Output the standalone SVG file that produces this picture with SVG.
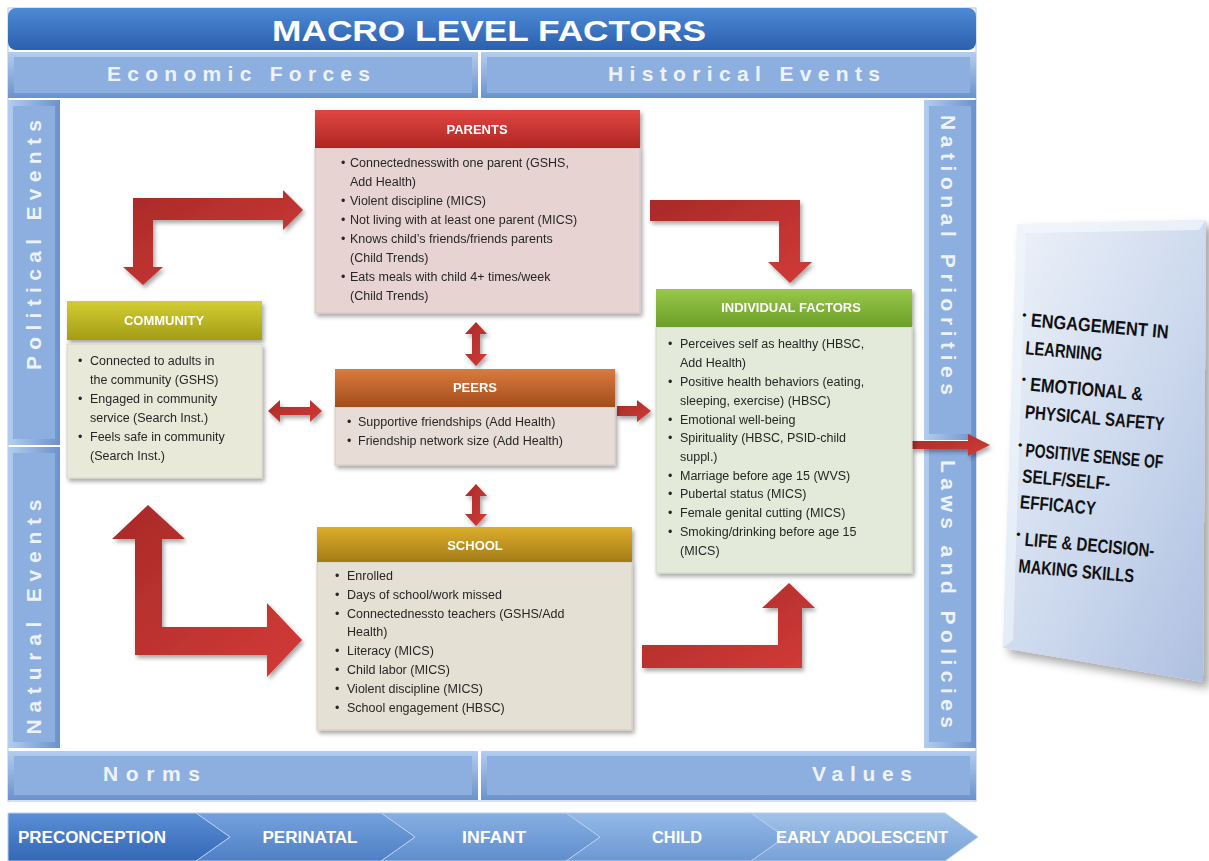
<svg xmlns="http://www.w3.org/2000/svg" width="1209" height="861" viewBox="0 0 1209 861">
<defs>
<style>
.bt{font-family:"Liberation Sans",Arial,sans-serif;font-weight:bold;fill:#eef3fb;font-size:21px;}
.hd{font-family:"Liberation Sans",Arial,sans-serif;font-weight:bold;fill:#ffffff;font-size:13px;text-anchor:middle;}
.tx{font-family:"Liberation Sans",Arial,sans-serif;font-size:12.5px;fill:#262626;}
.tl{font-family:"Liberation Sans",Arial,sans-serif;font-weight:bold;fill:#ffffff;font-size:16px;text-anchor:middle;}
.pn{font-family:"Liberation Sans",Arial,sans-serif;font-weight:bold;fill:#111;font-size:19px;}
.pb{font-family:"Liberation Sans",Arial,sans-serif;font-weight:bold;fill:#111;font-size:12px;}
.ar{fill:url(#red);filter:url(#sh);}
.bf{fill:#8cafe0;}
</style>
<filter id="sh" x="-10%" y="-10%" width="130%" height="130%"><feDropShadow dx="2" dy="3" stdDeviation="2" flood-color="#000" flood-opacity="0.35"/></filter>
<filter id="sh2" x="-20%" y="-10%" width="150%" height="130%"><feDropShadow dx="6" dy="6" stdDeviation="5" flood-color="#000" flood-opacity="0.35"/></filter>
<linearGradient id="red" x1="0" y1="0" x2="1" y2="1"><stop offset="0" stop-color="#a82a28"/><stop offset="1" stop-color="#d23b37"/></linearGradient>
<linearGradient id="top" x1="0" y1="0" x2="0" y2="1"><stop offset="0" stop-color="#4d8ad6"/><stop offset="1" stop-color="#2b60ad"/></linearGradient>
<linearGradient id="bh" x1="0" y1="0" x2="0" y2="1"><stop offset="0" stop-color="#b3cdf0"/><stop offset="1" stop-color="#6a92cc"/></linearGradient>
<linearGradient id="bv" x1="0" y1="0" x2="1" y2="0"><stop offset="0" stop-color="#b3cdf0"/><stop offset="1" stop-color="#6a92cc"/></linearGradient>
<linearGradient id="hRed" x1="0" y1="0" x2="0" y2="1"><stop offset="0" stop-color="#e04642"/><stop offset="1" stop-color="#b02623"/></linearGradient>
<linearGradient id="hOl" x1="0" y1="0" x2="0" y2="1"><stop offset="0" stop-color="#d3cd33"/><stop offset="1" stop-color="#a39d17"/></linearGradient>
<linearGradient id="hOr" x1="0" y1="0" x2="0" y2="1"><stop offset="0" stop-color="#d97b3f"/><stop offset="1" stop-color="#a34d1b"/></linearGradient>
<linearGradient id="hGr" x1="0" y1="0" x2="0" y2="1"><stop offset="0" stop-color="#98c84a"/><stop offset="1" stop-color="#6b9f28"/></linearGradient>
<linearGradient id="hGo" x1="0" y1="0" x2="0" y2="1"><stop offset="0" stop-color="#dcae2c"/><stop offset="1" stop-color="#a37b17"/></linearGradient>
<linearGradient id="ch1" x1="0" y1="0" x2="0" y2="1"><stop offset="0" stop-color="#5a8fd6"/><stop offset="1" stop-color="#3467b5"/></linearGradient>
<linearGradient id="ch2" x1="0" y1="0" x2="0" y2="1"><stop offset="0" stop-color="#74a1dd"/><stop offset="1" stop-color="#4f80c5"/></linearGradient>
<linearGradient id="ch3" x1="0" y1="0" x2="0" y2="1"><stop offset="0" stop-color="#86afe3"/><stop offset="1" stop-color="#5f8ecd"/></linearGradient>
<linearGradient id="ch4" x1="0" y1="0" x2="0" y2="1"><stop offset="0" stop-color="#94b9e7"/><stop offset="1" stop-color="#6c98d3"/></linearGradient>
<linearGradient id="ch5" x1="0" y1="0" x2="0" y2="1"><stop offset="0" stop-color="#a1c2ea"/><stop offset="1" stop-color="#77a1d7"/></linearGradient>
<linearGradient id="pnl" x1="0" y1="0" x2="1" y2="1"><stop offset="0" stop-color="#eef3fa"/><stop offset="0.6" stop-color="#c9d6ec"/><stop offset="1" stop-color="#aebfe0"/></linearGradient>
</defs>
<rect width="1209" height="861" fill="#ffffff"/>

<g id="frame">
<rect x="8" y="8" width="968" height="793" fill="#ffffff" stroke="#a9c3e8" stroke-width="1"/>
<rect x="8" y="8" width="968" height="42" rx="8" fill="url(#top)"/>
<text x="489" y="41" font-family="'Liberation Sans',Arial,sans-serif" font-weight="bold" font-size="29" fill="#ffffff" text-anchor="middle" textLength="434" lengthAdjust="spacingAndGlyphs">MACRO LEVEL FACTORS</text>
</g>

<g id="band-economic"><rect x="8" y="52" width="470" height="46" fill="url(#bh)"/><rect class="bf" x="14" y="57" width="458" height="36"/><text class="bt" x="107" y="81" textLength="263" lengthAdjust="spacing">Economic Forces</text></g>
<g id="band-historical"><rect x="481" y="52" width="495" height="46" fill="url(#bh)"/><rect class="bf" x="487" y="57" width="483" height="36"/><text class="bt" x="608" y="81" textLength="272" lengthAdjust="spacing">Historical Events</text></g>
<g id="band-norms"><rect x="8" y="751" width="470" height="49" fill="url(#bh)"/><rect class="bf" x="14" y="756" width="458" height="39"/><text class="bt" x="103" y="781" textLength="97" lengthAdjust="spacing">Norms</text></g>
<g id="band-values"><rect x="481" y="751" width="495" height="49" fill="url(#bh)"/><rect class="bf" x="487" y="756" width="483" height="39"/><text class="bt" x="812" y="781" textLength="100" lengthAdjust="spacing">Values</text></g>
<g id="band-political"><rect x="8" y="100" width="52" height="345" fill="url(#bv)"/><rect class="bf" x="13" y="106" width="42" height="333"/><text class="bt" transform="translate(34,245) rotate(-90)" x="0" y="7" text-anchor="middle" textLength="250" lengthAdjust="spacing">Political Events</text></g>
<g id="band-natural"><rect x="8" y="447" width="52" height="301" fill="url(#bv)"/><rect class="bf" x="13" y="453" width="42" height="289"/><text class="bt" transform="translate(34,617) rotate(-90)" x="0" y="7" text-anchor="middle" textLength="235" lengthAdjust="spacing">Natural Events</text></g>
<g id="band-national"><rect x="924" y="100" width="52" height="340" fill="url(#bv)"/><rect class="bf" x="929" y="106" width="42" height="328"/><text class="bt" transform="translate(948,255) rotate(90)" x="0" y="7" text-anchor="middle" textLength="280" lengthAdjust="spacing">National Priorities</text></g>
<g id="band-laws"><rect x="924" y="442" width="52" height="306" fill="url(#bv)"/><rect class="bf" x="929" y="448" width="42" height="294"/><text class="bt" transform="translate(948,594) rotate(90)" x="0" y="7" text-anchor="middle" textLength="268" lengthAdjust="spacing">Laws and Policies</text></g>

<g id="timeline">
<polygon points="751,813 945,813 978,837 945,861 751,861 785,837" fill="url(#ch5)" stroke="#b5cdee" stroke-width="1"/>
<polygon points="566,813 751,813 785,837 751,861 566,861 600,837" fill="url(#ch4)" stroke="#b5cdee" stroke-width="1"/>
<polygon points="381,813 566,813 600,837 566,861 381,861 415,837" fill="url(#ch3)" stroke="#b5cdee" stroke-width="1"/>
<polygon points="196,813 381,813 415,837 381,861 196,861 230,837" fill="url(#ch2)" stroke="#b5cdee" stroke-width="1"/>
<polygon points="8,813 196,813 230,837 196,861 8,861" fill="url(#ch1)" stroke="#b5cdee" stroke-width="1"/>
<text class="tl" x="92" y="843" textLength="148" lengthAdjust="spacingAndGlyphs">PRECONCEPTION</text>
<text class="tl" x="310" y="843" textLength="95" lengthAdjust="spacingAndGlyphs">PERINATAL</text>
<text class="tl" x="494" y="843" textLength="64" lengthAdjust="spacingAndGlyphs">INFANT</text>
<text class="tl" x="677" y="843" textLength="50" lengthAdjust="spacingAndGlyphs">CHILD</text>
<text class="tl" x="862" y="843" textLength="172" lengthAdjust="spacingAndGlyphs">EARLY ADOLESCENT</text>
</g>

<g id="connectors">
<polygon class="ar" points="303,210 283,230 283,220 153,220 153,267 163,267 143,285 123,267 133,267 133,198 283,198 283,190"/>
<polygon class="ar" points="650,200 800,200 800,262 812,262 790,283 768,262 779,262 779,221 650,221"/>
<polygon class="ar" points="148,505 185,539 162,539 162,627 267,627 267,603 302,640 267,677 267,655 135,655 135,539 112,539"/>
<polygon class="ar" points="642,645 778,645 778,608 762,608 789,583 815,608 802,608 802,668 642,668"/>
<polygon class="ar" points="476,322 487,334 480,334 480,354 487,354 476,366 465,354 472,354 472,334 465,334"/>
<polygon class="ar" points="476,484 487,496 480,496 480,514 487,514 476,526 465,514 472,514 472,496 465,496"/>
<polygon class="ar" points="268,411 280,400 280,407 310,407 310,400 322,411 310,422 310,415 280,415 280,422"/>
<polygon class="ar" points="617,406 637,406 637,400 651,411 637,422 637,416 617,416"/>
<polygon class="ar" points="912,441 968,441 968,434 990,445 968,456 968,449 912,449"/>
</g>

<g id="parents" filter="url(#sh)">
<rect x="315" y="148" width="325" height="165" fill="#e8d3d3" stroke="#d8c2c2"/>
<rect x="315" y="110" width="325" height="38" fill="url(#hRed)"/>
<text class="hd" x="477" y="134">PARENTS</text>
<text class="tx"><tspan x="341" y="167">•</tspan><tspan x="341" y="205">•</tspan><tspan x="341" y="224">•</tspan><tspan x="341" y="243">•</tspan><tspan x="341" y="281">•</tspan></text>
<text class="tx"><tspan x="350" y="167">Connectednesswith one parent (GSHS,</tspan><tspan x="350" y="186">Add Health)</tspan><tspan x="350" y="205">Violent discipline (MICS)</tspan><tspan x="350" y="224">Not living with at least one parent  (MICS)</tspan><tspan x="350" y="243">Knows child’s friends/friends parents</tspan><tspan x="350" y="262">(Child Trends)</tspan><tspan x="350" y="281">Eats meals with child 4+ times/week</tspan><tspan x="350" y="300">(Child Trends)</tspan></text>
</g>

<g id="community" filter="url(#sh)">
<rect x="67" y="344" width="195" height="134" fill="#e9e9da" stroke="#d6d6c4"/>
<rect x="67" y="301" width="195" height="39" fill="url(#hOl)"/>
<text class="hd" x="164" y="325">COMMUNITY</text>
<text class="tx"><tspan x="78" y="365">•</tspan><tspan x="78" y="403">•</tspan><tspan x="78" y="441">•</tspan></text>
<text class="tx"><tspan x="90" y="365">Connected to adults in</tspan><tspan x="90" y="384">the community (GSHS)</tspan><tspan x="90" y="403">Engaged in community</tspan><tspan x="90" y="422">service (Search Inst.)</tspan><tspan x="90" y="441">Feels safe in community</tspan><tspan x="90" y="460">(Search Inst.)</tspan></text>
</g>

<g id="peers" filter="url(#sh)">
<rect x="335" y="407" width="280" height="58" fill="#e8dcd7" stroke="#d6c8c2"/>
<rect x="335" y="369" width="280" height="38" fill="url(#hOr)"/>
<text class="hd" x="475" y="392">PEERS</text>
<text class="tx"><tspan x="347" y="426">•</tspan><tspan x="347" y="445">•</tspan></text>
<text class="tx"><tspan x="358" y="426">Supportive friendships (Add Health)</tspan><tspan x="358" y="445">Friendship network size (Add Health)</tspan></text>
</g>

<g id="individual" filter="url(#sh)">
<rect x="656" y="327" width="256" height="246" fill="#e3ead9" stroke="#cfd8c4"/>
<rect x="656" y="289" width="256" height="38" fill="url(#hGr)"/>
<text class="hd" x="791" y="312">INDIVIDUAL FACTORS</text>
<text class="tx"><tspan x="668" y="348">•</tspan><tspan x="668" y="386">•</tspan><tspan x="668" y="424">•</tspan><tspan x="668" y="442">•</tspan><tspan x="668" y="480">•</tspan><tspan x="668" y="498">•</tspan><tspan x="668" y="517">•</tspan><tspan x="668" y="536">•</tspan></text>
<text class="tx"><tspan x="680" y="348">Perceives self as healthy (HBSC,</tspan><tspan x="680" y="367">Add Health)</tspan><tspan x="680" y="386">Positive health behaviors (eating,</tspan><tspan x="680" y="405">sleeping, exercise) (HBSC)</tspan><tspan x="680" y="424">Emotional well-being</tspan><tspan x="680" y="442">Spirituality (HBSC, PSID-child</tspan><tspan x="680" y="461">suppl.)</tspan><tspan x="680" y="480">Marriage before age 15 (WVS)</tspan><tspan x="680" y="498">Pubertal status (MICS)</tspan><tspan x="680" y="517">Female genital cutting  (MICS)</tspan><tspan x="680" y="536">Smoking/drinking before age 15</tspan><tspan x="680" y="555">(MICS)</tspan></text>
</g>

<g id="school" filter="url(#sh)">
<rect x="317" y="562" width="315" height="168" fill="#e5e0d4" stroke="#d3cdbf"/>
<rect x="317" y="527" width="315" height="35" fill="url(#hGo)"/>
<text class="hd" x="475" y="550">SCHOOL</text>
<text class="tx"><tspan x="335" y="580">•</tspan><tspan x="335" y="599">•</tspan><tspan x="335" y="618">•</tspan><tspan x="335" y="655">•</tspan><tspan x="335" y="674">•</tspan><tspan x="335" y="693">•</tspan><tspan x="335" y="712">•</tspan></text>
<text class="tx"><tspan x="347" y="580">Enrolled</tspan><tspan x="347" y="599">Days of school/work missed</tspan><tspan x="347" y="618">Connectednessto teachers (GSHS/Add</tspan><tspan x="347" y="636">Health)</tspan><tspan x="347" y="655">Literacy (MICS)</tspan><tspan x="347" y="674">Child labor (MICS)</tspan><tspan x="347" y="693">Violent discipline (MICS)</tspan><tspan x="347" y="712">School engagement (HBSC)</tspan></text>
</g>

<g id="outcomes">
<polygon points="1017,224 1206,220 1203,682 1003,648" fill="url(#pnl)" filter="url(#sh2)"/>
<polygon points="1017,224 1206,220 1199,230 1026,233" fill="#f5f8fc" opacity="0.7"/>
<polygon points="1017,224 1026,233 1013,640 1003,648" fill="#f2f6fb" opacity="0.6"/>
<g transform="rotate(5 1025 320)">
<text class="pb"><tspan x="1022" y="319">•</tspan><tspan x="1027" y="383">•</tspan><tspan x="1029" y="449">•</tspan><tspan x="1035" y="538">•</tspan></text>
<text class="pn" x="1031" y="326" textLength="138" lengthAdjust="spacingAndGlyphs">ENGAGEMENT IN</text>
<text class="pn" x="1028" y="354" textLength="77" lengthAdjust="spacingAndGlyphs">LEARNING</text>
<text class="pn" x="1036" y="390" textLength="113" lengthAdjust="spacingAndGlyphs">EMOTIONAL &amp;</text>
<text class="pn" x="1033" y="418" textLength="140" lengthAdjust="spacingAndGlyphs">PHYSICAL SAFETY</text>
<text class="pn" x="1037" y="456" textLength="138" lengthAdjust="spacingAndGlyphs">POSITIVE SENSE OF</text>
<text class="pn" x="1036" y="482" textLength="88" lengthAdjust="spacingAndGlyphs">SELF/SELF-</text>
<text class="pn" x="1036" y="508" textLength="76" lengthAdjust="spacingAndGlyphs">EFFICACY</text>
<text class="pn" x="1044" y="545" textLength="130" lengthAdjust="spacingAndGlyphs">LIFE &amp; DECISION-</text>
<text class="pn" x="1040" y="572" textLength="116" lengthAdjust="spacingAndGlyphs">MAKING SKILLS</text>
</g>
</g>
</svg>
